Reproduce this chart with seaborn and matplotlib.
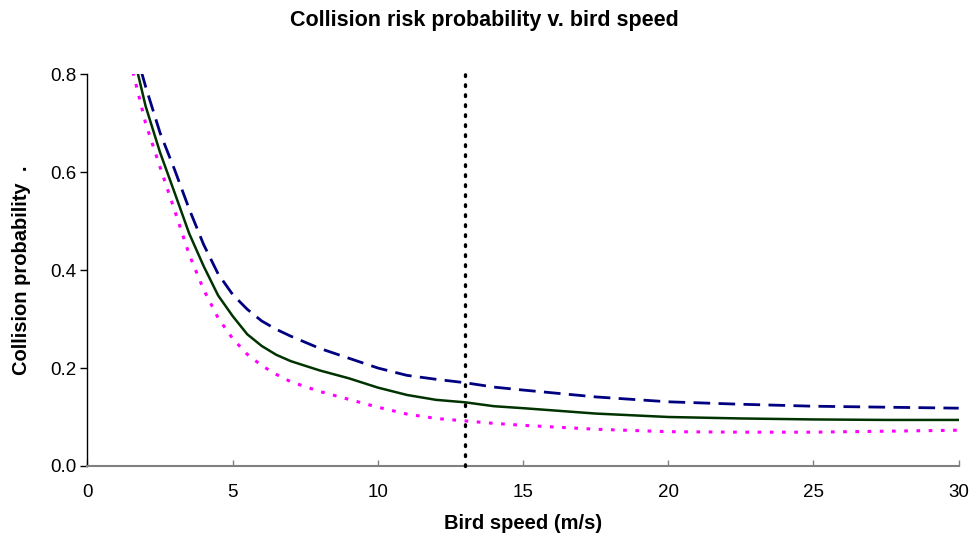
import matplotlib
matplotlib.use("Agg")
import matplotlib.pyplot as plt
import seaborn as sns
import pandas as pd

# Bird speed (m/s) and collision probability for three cases
speed = [1.0, 1.5, 2.0, 2.5, 3.0, 3.5, 4.0, 4.5, 5.0, 5.5, 6.0, 6.5, 7.0, 8.0, 9.0,
         10.0, 11.0, 12.0, 13.0, 14.0, 15.0, 17.5, 20.0, 22.5, 25.0, 27.5, 30.0]
upper = [1.00, 0.88, 0.775, 0.68, 0.605, 0.525, 0.452, 0.392, 0.350, 0.320, 0.296,
         0.279, 0.265, 0.240, 0.220, 0.200, 0.185, 0.177, 0.170, 0.161, 0.155,
         0.141, 0.131, 0.126, 0.122, 0.120, 0.118]
central = [0.98, 0.86, 0.735, 0.64, 0.558, 0.475, 0.408, 0.348, 0.306, 0.269, 0.245,
           0.227, 0.214, 0.195, 0.179, 0.160, 0.145, 0.135, 0.130, 0.122, 0.118,
           0.107, 0.100, 0.097, 0.095, 0.094, 0.094]
lower = [0.95, 0.82, 0.70, 0.61, 0.522, 0.432, 0.360, 0.302, 0.260, 0.228, 0.205,
         0.187, 0.172, 0.152, 0.136, 0.120, 0.106, 0.097, 0.092, 0.087, 0.083,
         0.075, 0.070, 0.069, 0.069, 0.071, 0.073]
marker_speed = 13.0
marker_top = 0.816

x_ticks = [0, 5, 10, 15, 20, 25, 30]
y_ticks = [0.0, 0.2, 0.4, 0.6, 0.8]

df = pd.DataFrame({"speed": speed, "upper": upper, "central": central, "lower": lower})

sns.set_theme(style="white")
plt.rcParams["font.family"] = ["Liberation Sans", "DejaVu Sans"]
plt.rcParams["text.color"] = "black"
plt.rcParams["axes.labelcolor"] = "black"
plt.rcParams["xtick.color"] = "black"
plt.rcParams["ytick.color"] = "black"

fig = plt.figure(figsize=(9.73, 5.45), dpi=100)
ax = fig.add_axes([0.0899, 0.145, 0.8954, 0.719])

sns.lineplot(data=df, x="speed", y="upper", ax=ax, color="#000080",
             linewidth=2.0, legend=False)
ax.lines[-1].set_dashes([6, 3])
sns.lineplot(data=df, x="speed", y="central", ax=ax, color="#003300",
             linewidth=1.8, legend=False)
sns.lineplot(data=df, x="speed", y="lower", ax=ax, color="#FF00FF",
             linewidth=2.2, legend=False)
ax.lines[-1].set_dashes([1.2, 2.8])
for ln in ax.lines:
    ln.set_solid_joinstyle("round")
    ln.set_dash_joinstyle("round")

# reference speed marker, extending slightly above the plot area
ax.plot([marker_speed, marker_speed], [0, marker_top], color="black",
        linewidth=2.4, linestyle=(0, (0.5, 2.5)), dash_capstyle="round",
        clip_on=False, zorder=5)

ax.set_xlim(0, 30)
ax.set_ylim(0, 0.8)
ax.set_xticks(x_ticks)
ax.set_xticklabels([str(v) for v in x_ticks])
ax.set_yticks(y_ticks)
ax.set_yticklabels([f"{v:.1f}" for v in y_ticks])

for s in ["top", "right"]:
    ax.spines[s].set_visible(False)
ax.spines["left"].set_color("black")
ax.spines["left"].set_linewidth(1.0)
ax.spines["bottom"].set_color("#808080")
ax.spines["bottom"].set_linewidth(1.5)

ax.tick_params(axis="y", direction="out", length=5, width=1, color="black",
               labelsize=13.5, pad=3, left=True, labelcolor="black")
ax.tick_params(axis="x", direction="in", length=4, width=1, color="#808080",
               labelsize=13.5, pad=13, bottom=True, labelcolor="black")

ax.set_xlabel("Bird speed (m/s)", fontsize=14.5, fontweight="bold", labelpad=9,
              color="black")
ax.set_ylabel("Collision probability  .", fontsize=14.5, fontweight="bold",
              labelpad=14, color="black")
fig.suptitle("Collision risk probability v. bird speed", fontsize=15.5,
             fontweight="bold", x=0.498, y=0.982, va="top", color="black")

fig.savefig("out.png", dpi=100, facecolor="white")
